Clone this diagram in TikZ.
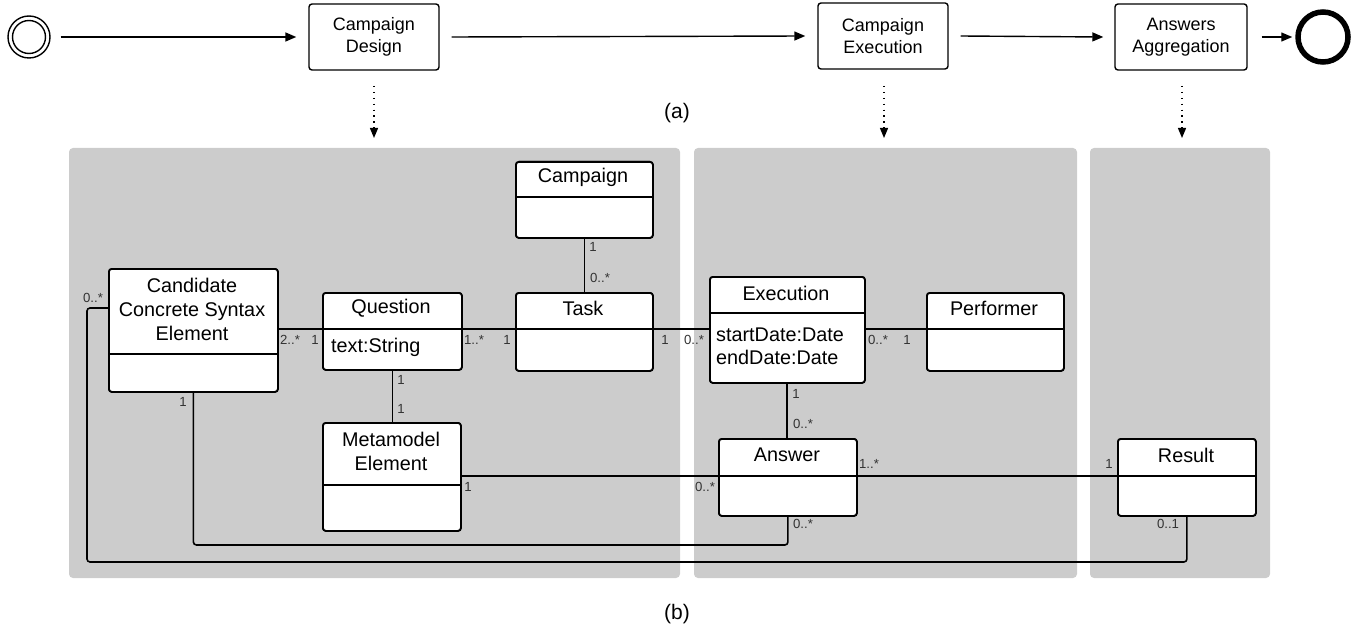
\documentclass[tikz,border=0pt]{standalone}
\usepackage{fontspec}
\setmainfont{Liberation Sans}
\usetikzlibrary{arrows.meta}
\definecolor{panelgray}{HTML}{CCCCCC}
\definecolor{multgray}{HTML}{333333}

% UML class box: name, x1, y1, x2, y2, y of the compartment divider
\newcommand\umlclass[6]{%
  \node[cls, anchor=north west, minimum width={(#4-#2)*1pt},
        minimum height={(#5-#3)*1pt}] (#1) at (#2,#3) {};
  \draw[line width=1.6pt] (#1.west |- 0,#6) -- (#1.east |- 0,#6);
}

\begin{document}
\begin{tikzpicture}[x=1pt,y=-1pt,
  panel/.style={fill=panelgray, rounded corners=4pt},
  stepbox/.style={draw, line width=1.4pt, rounded corners=3pt, fill=white,
    minimum width=130pt, minimum height=66pt, inner sep=0pt,
    align=center, font=\fontsize{18}{22}\selectfont},
  flow/.style={line width=1.4pt, -{Triangle[length=11pt,width=9pt]}},
  trace/.style={line width=1.3pt, dash pattern=on 1.3pt off 4.6pt,
    -{Triangle[length=10pt,width=8pt]}},
  cls/.style={draw, line width=1.8pt, rounded corners=3pt, fill=white, inner sep=0pt},
  conn/.style={line width=1.6pt, rounded corners=3pt},
  ttl/.style={font=\fontsize{19.8}{24}\selectfont, align=center, inner sep=0pt},
  attr/.style={font=\fontsize{19.8}{23}\selectfont, align=left, inner sep=0pt, anchor=west},
  mult/.style={font=\fontsize{13.2}{15}\selectfont, text=multgray, inner sep=0pt},
  caption/.style={font=\fontsize{21}{24}\selectfont, inner sep=0pt}
]
\useasboundingbox (0,0) rectangle (1354,631);

% ---------- (a) process ----------
\node[circle, draw, line width=1.4pt, minimum size=42pt, inner sep=0pt] (start) at (29,37) {};
\draw[line width=1.4pt] (start.center) circle[radius=16.5];
\node[stepbox] (design) at (374,37) {Campaign\\Design};
\node[stepbox] (execution) at (883,36) {Campaign\\Execution};
\node[stepbox, minimum width=132pt] (aggregation) at (1181,37) {Answers\\Aggregation};
\node[circle, draw, line width=5.5pt, minimum size=50pt, inner sep=0pt] (end) at (1323,37) {};

\draw[flow] ([xshift=10pt]start.east) -- ([xshift=-12pt]design.west);
\draw[flow] ([xshift=12pt]design.east) -- ([xshift=-12pt]execution.west);
\draw[flow] ([xshift=12pt]execution.east) -- ([xshift=-11pt]aggregation.west);
\draw[flow] ([xshift=14pt]aggregation.east) -- ([xshift=-3pt]end.west);

\node[caption] (capa) at (677,113) {(a)};

\coordinate (tipdesign) at (374,138);
\coordinate (tipexec) at (884,138);
\coordinate (tipagg) at (1182,138);
\draw[trace] (design.south |- 0,86) -- (tipdesign);
\draw[trace] (tipexec |- 0,86) -- (tipexec);
\draw[trace] (tipagg |- 0,86) -- (tipagg);

% ---------- (b) panels ----------
\fill[panel] (69,148) rectangle (680,578);
\fill[panel] (694,148) rectangle (1077,578);
\fill[panel] (1090,148) rectangle (1270,578);

\node[caption] (capb) at (677,614) {(b)};

% ---------- classes ----------
\umlclass{campaign}{515}{161}{652}{237}{197}
\umlclass{task}{515}{292}{652}{370}{329}
\umlclass{question}{322}{292}{461}{369}{329}
\umlclass{ccse}{108}{268}{277}{391}{354}
\umlclass{metamodel}{322}{422}{460}{530}{485}
\umlclass{exec}{709}{276}{864}{382}{313}
\umlclass{performer}{926}{292}{1063}{370}{329}
\umlclass{answer}{718}{438}{856}{515}{476}
\umlclass{result}{1117}{438}{1255}{515}{476}

% ---------- associations ----------
\draw[conn] (ccse.east |- 0,329) -- (question.west |- 0,329);
\draw[conn] (question.east |- 0,329) -- (task.west |- 0,329);
\draw[conn] (task.east |- 0,329) -- (exec.west |- 0,329);
\draw[conn] (exec.east |- 0,329) -- (performer.west |- 0,329);
\draw[conn] (campaign.south) -- (task.north);
\draw[conn] (question.south) -- (metamodel.north -| question.south);
\draw[conn] (exec.south -| 787,0) -- (answer.north -| 787,0);
\draw[conn] (metamodel.east |- 0,476) -- (answer.west |- 0,476);
\draw[conn] (answer.east |- 0,476) -- (result.west |- 0,476);
\draw[conn] (ccse.south) -- (ccse.south |- 0,545) -- (answer.south |- 0,545) -- (answer.south);
\draw[conn] (ccse.west |- 0,308) -- (87,308) -- (87,562) -- (result.south |- 0,562) -- (result.south);

% redraw boxes over line ends
\umlclass{campaign}{515}{161}{652}{237}{197}
\umlclass{task}{515}{292}{652}{370}{329}
\umlclass{question}{322}{292}{461}{369}{329}
\umlclass{ccse}{108}{268}{277}{391}{354}
\umlclass{metamodel}{322}{422}{460}{530}{485}
\umlclass{exec}{709}{276}{864}{382}{313}
\umlclass{performer}{926}{292}{1063}{370}{329}
\umlclass{answer}{718}{438}{856}{515}{476}
\umlclass{result}{1117}{438}{1255}{515}{476}

% ---------- class texts ----------
\node[ttl] (tcampaign) at (583,177) {Campaign};
\node[ttl] (ttask) at (583,308) {Task};
\node[ttl] (tquestion) at (391,308) {Question};
\node[attr] (aquestion) at (331,347) {text:String};
\node[ttl] (tccse) at (192,309) {Candidate\\Concrete Syntax\\Element};
\node[ttl] (tmeta) at (391,451) {Metamodel\\Element};
\node[ttl] (texec) at (786,293) {Execution};
\node[attr] (aexec) at (716,346) {startDate:Date\\endDate:Date};
\node[ttl] (tperformer) at (994,308) {Performer};
\node[ttl] (tanswer) at (787,455) {Answer};
\node[ttl] (tresult) at (1186,455) {Result};

% ---------- multiplicities ----------
\node[mult] (m1) at (290,340) {2..*};
\node[mult] (m2) at (315,340) {1};
\node[mult] (m3) at (474,340) {1..*};
\node[mult] (m4) at (507,340) {1};
\node[mult] (m5) at (665,340) {1};
\node[mult] (m6) at (694,340) {0..*};
\node[mult] (m7) at (878,340) {0..*};
\node[mult] (m8) at (907,340) {1};
\node[mult] (m9) at (593,247) {1};
\node[mult] (m10) at (600,278) {0..*};
\node[mult] (m11) at (401,380) {1};
\node[mult] (m12) at (401,409) {1};
\node[mult] (m13) at (796,394) {1};
\node[mult] (m14) at (803,424) {0..*};
\node[mult] (m15) at (468,487) {1};
\node[mult] (m16) at (705,487) {0..*};
\node[mult] (m17) at (869,464) {1..*};
\node[mult] (m18) at (1109,464) {1};
\node[mult] (m19) at (183,402) {1};
\node[mult] (m20) at (803,524) {0..*};
\node[mult] (m21) at (93,298) {0..*};
\node[mult] (m22) at (1168,524) {0..1};
\end{tikzpicture}
\end{document}
